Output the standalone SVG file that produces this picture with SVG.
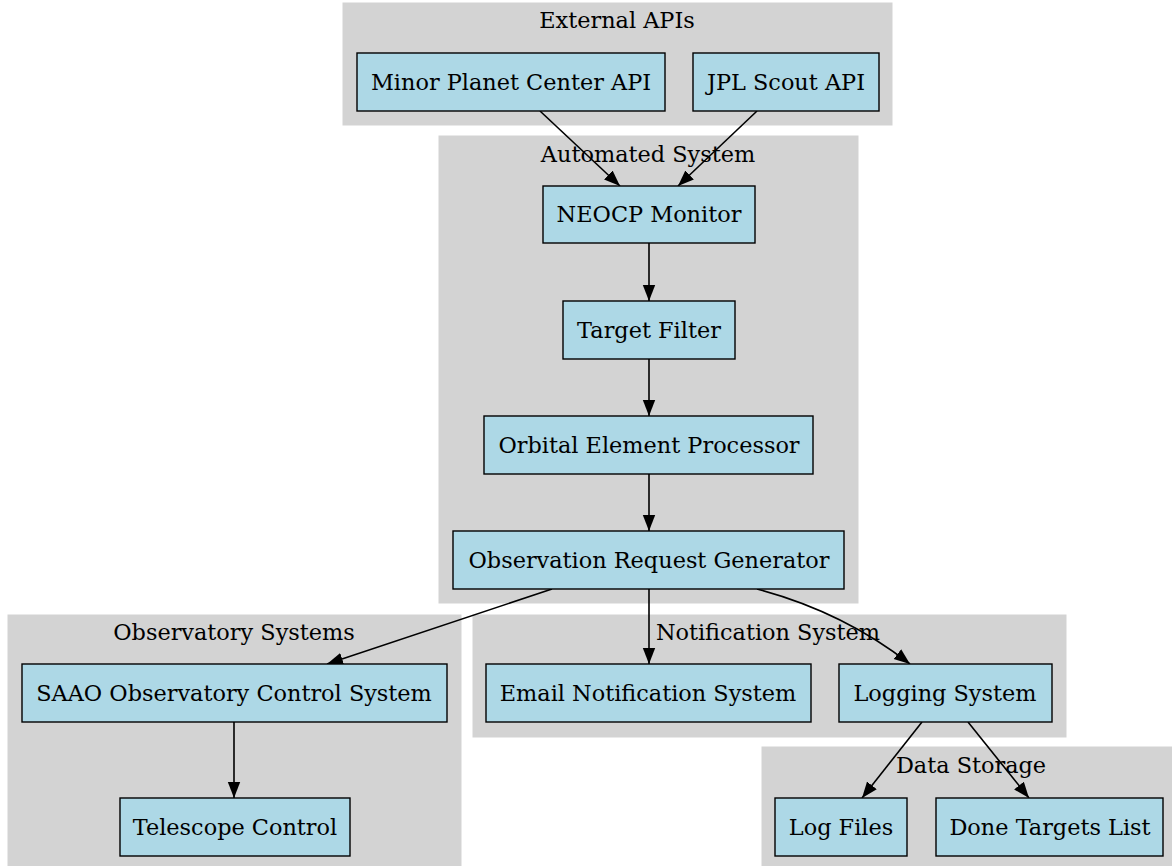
<svg xmlns="http://www.w3.org/2000/svg" width="1172" height="866" viewBox="0 0 1172 866">
<style>
.cl{fill:#d3d3d3;stroke:#d3d3d3}
.nd rect{fill:#add8e6;stroke:#000;stroke-width:1.4}
text{font-family:"DejaVu Serif",serif;font-size:22.4px;fill:#000;text-anchor:middle}
.ed path{fill:none;stroke:#000;stroke-width:1.6}
</style>
<defs>
<marker id="ah" markerUnits="userSpaceOnUse" markerWidth="18" markerHeight="14" refX="16" refY="7" orient="auto">
<path d="M0,0.8 L16,7 L0,13.2 z" fill="#000"/>
</marker>
</defs>
<g id="clusters">
<g id="c_ext"><rect class="cl" x="343" y="3" width="549" height="122"/><text x="617" y="28">External APIs</text></g>
<g id="c_auto"><rect class="cl" x="439" y="136" width="419" height="467"/><text x="648" y="162">Automated System</text></g>
<g id="c_obs"><rect class="cl" x="8" y="615" width="453" height="251"/><text x="234" y="640">Observatory Systems</text></g>
<g id="c_not"><rect class="cl" x="473" y="615" width="593" height="122"/><text x="768" y="640">Notification System</text></g>
<g id="c_data"><rect class="cl" x="762" y="747" width="410" height="119"/><text x="971" y="773">Data Storage</text></g>
</g>
<g id="edges" class="ed">
<path d="M540,111 L620,186" marker-end="url(#ah)"/>
<path d="M757,111 L678,186" marker-end="url(#ah)"/>
<path d="M649,243 L649,301" marker-end="url(#ah)"/>
<path d="M649,359 L649,416" marker-end="url(#ah)"/>
<path d="M649,474 L649,531" marker-end="url(#ah)"/>
<path d="M552,589 L327,664" marker-end="url(#ah)"/>
<path d="M649,589 L649,664" marker-end="url(#ah)"/>
<path d="M757,589 C810,603 860,625 910,664" marker-end="url(#ah)"/>
<path d="M234,722 L234,798" marker-end="url(#ah)"/>
<path d="M922,722 L862,798" marker-end="url(#ah)"/>
<path d="M968,722 L1029,798" marker-end="url(#ah)"/>
</g>
<g id="n_mpc" class="nd"><rect x="357" y="53" width="308" height="58"/><text x="511" y="90">Minor Planet Center API</text></g>
<g id="n_jpl" class="nd"><rect x="693" y="53" width="186" height="58"/><text x="786" y="90">JPL Scout API</text></g>
<g id="n_neocp" class="nd"><rect x="543" y="186" width="212" height="57"/><text x="649" y="222">NEOCP Monitor</text></g>
<g id="n_filter" class="nd"><rect x="563" y="301" width="172" height="58"/><text x="649" y="338">Target Filter</text></g>
<g id="n_orbit" class="nd"><rect x="484" y="416" width="329" height="58"/><text x="649" y="453">Orbital Element Processor</text></g>
<g id="n_org" class="nd"><rect x="453" y="531" width="391" height="58"/><text x="649" y="568">Observation Request Generator</text></g>
<g id="n_saao" class="nd"><rect x="22" y="664" width="425" height="58"/><text x="234" y="701">SAAO Observatory Control System</text></g>
<g id="n_tel" class="nd"><rect x="120" y="798" width="230" height="58"/><text x="235" y="835">Telescope Control</text></g>
<g id="n_email" class="nd"><rect x="486" y="664" width="325" height="58"/><text x="648" y="701">Email Notification System</text></g>
<g id="n_log" class="nd"><rect x="839" y="664" width="213" height="58"/><text x="945" y="701">Logging System</text></g>
<g id="n_logf" class="nd"><rect x="775" y="798" width="132" height="58"/><text x="841" y="835">Log Files</text></g>
<g id="n_done" class="nd"><rect x="936" y="798" width="227" height="58"/><text x="1050" y="835">Done Targets List</text></g>
</svg>
